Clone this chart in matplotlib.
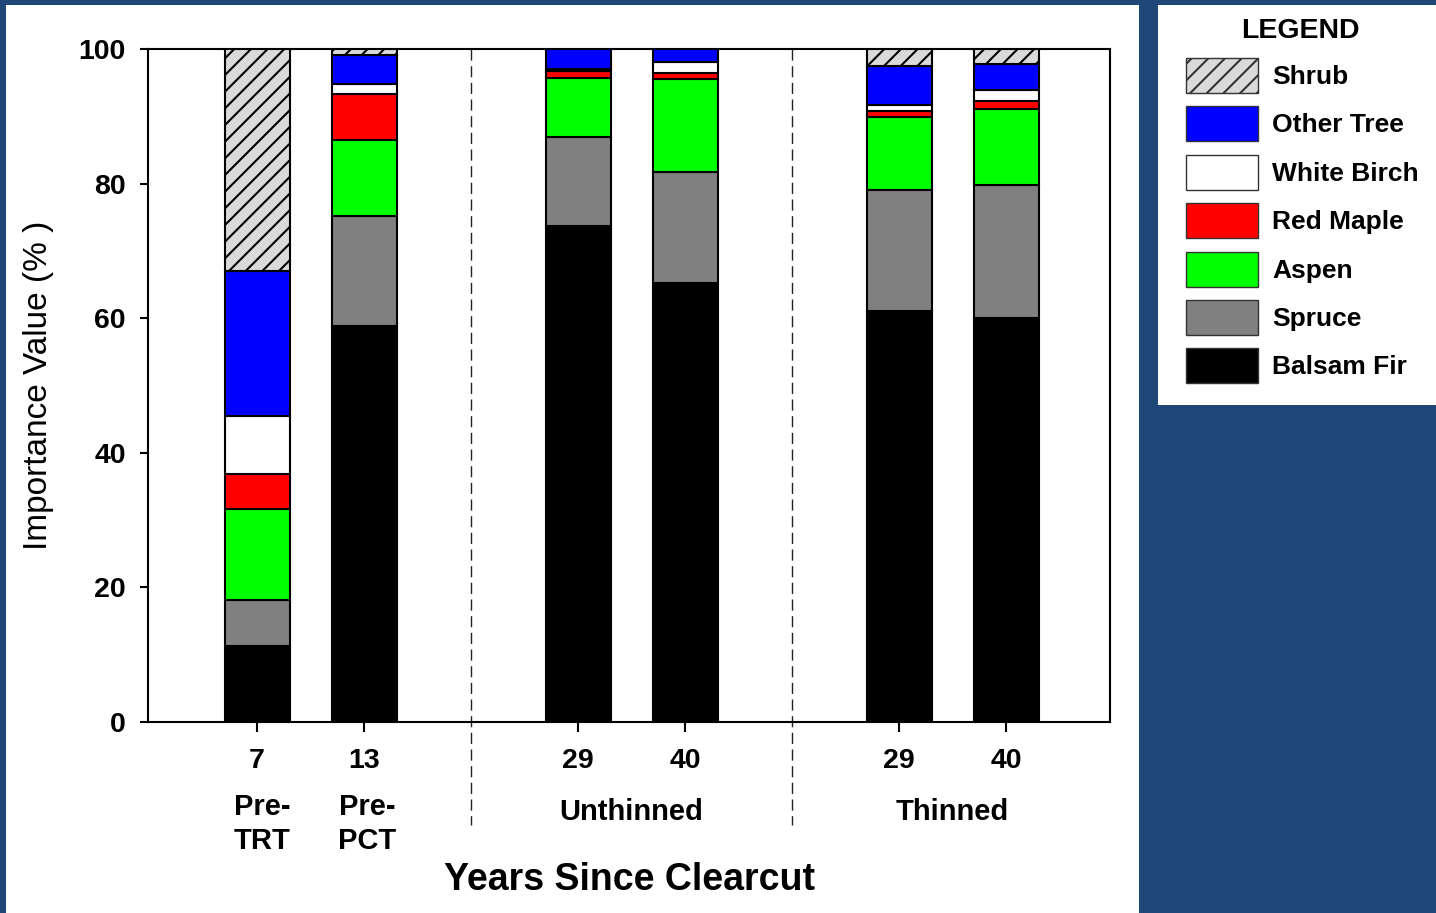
import matplotlib
matplotlib.use("Agg")
import matplotlib.pyplot as plt
from matplotlib.patches import Rectangle, Patch
from matplotlib.lines import Line2D
import numpy as np

plt.rcParams['font.family'] = ['Liberation Sans', 'DejaVu Sans']
plt.rcParams['hatch.linewidth'] = 1.5

# stand ages (tick labels) and treatment groups
year_labels = ["7", "13", "29", "40", "29", "40"]
positions = [0, 1, 3, 4, 6, 7]
group_labels = ["Unthinned", "Thinned"]

# importance value (%) by species, bottom to top of each stacked bar
species = ["Balsam Fir", "Spruce", "Aspen", "Red Maple", "White Birch", "Other Tree", "Shrub"]
balsam_fir = [11.3, 58.8, 73.7, 65.2, 61.1, 60.0]
spruce = [6.8, 16.4, 13.2, 16.5, 17.9, 19.8]
aspen = [13.5, 11.3, 8.8, 13.8, 10.9, 11.3]
red_maple = [5.2, 6.8, 1.0, 1.0, 0.9, 1.2]
white_birch = [8.7, 1.5, 0.3, 1.6, 0.9, 1.6]
other_tree = [21.5, 4.3, 3.0, 1.9, 5.8, 3.9]
shrub = [33.0, 0.9, 0.0, 0.0, 2.5, 2.2]

series = [balsam_fir, spruce, aspen, red_maple, white_birch, other_tree, shrub]
colors = ["#000000", "#808080", "#00FF00", "#FF0000", "#FFFFFF", "#0000FF", "#DADADA"]
hatches = [None, None, None, None, None, None, "//"]

fig = plt.figure(figsize=(14.36, 9.13), dpi=100)
fig.patch.set_facecolor("#1F4879")

# white panels behind the chart and the legend
fig.add_artist(Rectangle((6 / 1436, 0), 1133 / 1436, 908 / 913,
                         transform=fig.transFigure, facecolor="white",
                         edgecolor="none", zorder=-10))
fig.add_artist(Rectangle((1158 / 1436, 508 / 913), 278 / 1436, 400 / 913,
                         transform=fig.transFigure, facecolor="white",
                         edgecolor="none", zorder=-10))

ax = fig.add_axes([148 / 1436, 191 / 913, 962 / 1436, 673 / 913])

bottom = np.zeros(len(positions))
for vals, col, h in zip(series, colors, hatches):
    ax.bar(positions, vals, width=0.61, bottom=bottom, color=col,
           edgecolor="black", linewidth=1.5, hatch=h, zorder=3)
    bottom += np.array(vals)

ax.set_xlim(-1.02, 7.97)
ax.set_ylim(0, 100)
ax.set_yticks([0, 20, 40, 60, 80, 100])
ax.set_xticks(positions)
ax.set_xticklabels(year_labels)
for lab in ax.get_xticklabels() + ax.get_yticklabels():
    lab.set_fontweight("bold")
    lab.set_fontsize(20.5)
ax.tick_params(axis="y", length=6, width=1.5, pad=10)
ax.tick_params(axis="x", length=7, width=1.5, pad=12)
for sp in ax.spines.values():
    sp.set_linewidth(1.5)

# dashed dividers between treatment groups
for xd in [2, 5]:
    ax.add_line(Line2D([xd, xd], [1, -0.153], transform=ax.get_xaxis_transform(),
                       color="#222222", linewidth=1, linestyle=(0, (8, 4)),
                       clip_on=False, zorder=1))

# group labels under the ticks
trans = ax.get_xaxis_transform()
ax.text(positions[0] + 0.05, -0.105, "Pre-\nTRT", transform=trans, ha="center", va="top",
        fontsize=21, fontweight="bold", linespacing=1.3)
ax.text(positions[1] + 0.03, -0.105, "Pre-\nPCT", transform=trans, ha="center", va="top",
        fontsize=21, fontweight="bold", linespacing=1.3)
ax.text(np.mean(positions[2:4]), -0.1456, group_labels[0], transform=trans,
        ha="center", va="baseline", fontsize=21, fontweight="bold")
ax.text(np.mean(positions[4:6]), -0.1456, group_labels[1], transform=trans,
        ha="center", va="baseline", fontsize=21, fontweight="bold")

ax.text(0.5, -0.249, "Years Since Clearcut", transform=ax.transAxes,
        ha="center", va="baseline", fontsize=27, fontweight="bold")
ax.text(-0.1143, 0.5, "Importance Value (% )", transform=ax.transAxes,
        ha="center", va="center", rotation=90, fontsize=24)

# legend, top entry first
fig.text(1300 / 1436, 1 - 31 / 913, "LEGEND", ha="center", va="center",
         fontsize=20.5, fontweight="bold")
handles = [Patch(facecolor=c, edgecolor="#333333", linewidth=1, hatch=h)
           for c, h in zip(colors[::-1], hatches[::-1])]
leg = fig.legend(handles, species[::-1], loc="upper left",
                 bbox_to_anchor=(1186 / 1436, 1 - 58 / 913),
                 frameon=False, borderaxespad=0, borderpad=0,
                 prop={"weight": "bold", "size": 19},
                 handlelength=2.73, handleheight=1.66,
                 labelspacing=0.51, handletextpad=0.53)

plt.savefig("out.png", dpi=100, facecolor=fig.get_facecolor())
